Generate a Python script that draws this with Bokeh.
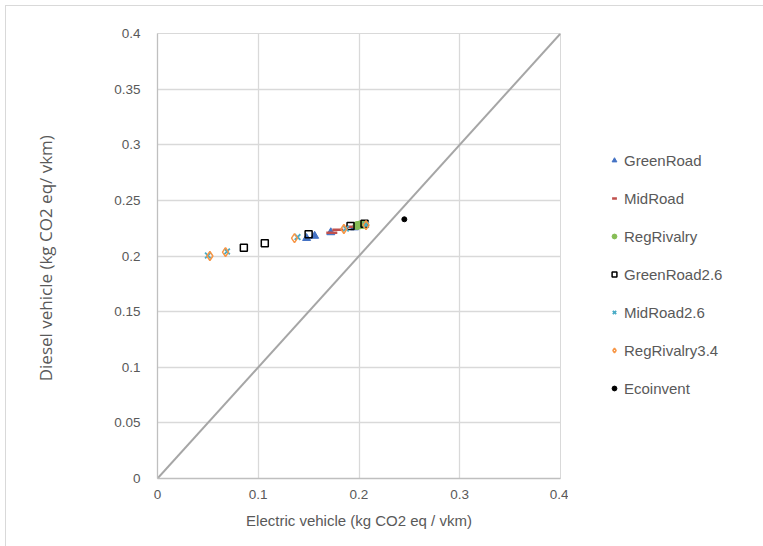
from bokeh.plotting import figure
from bokeh.layouts import row
from bokeh.models import FixedTicker, Legend, LegendItem
from bokeh.embed import file_html
from bokeh.resources import INLINE

# Emissions per vehicle-km: electric (x) against diesel (y), kg CO2 eq / vkm
green_road_x = [0.148, 0.156, 0.172, 0.1955]
green_road_y = [0.216, 0.218, 0.2212, 0.2256]

mid_road_x = [0.173, 0.179, 0.193]
mid_road_y = [0.2208, 0.2236, 0.2262]

reg_rivalry_x = [0.198, 0.201, 0.204]
reg_rivalry_y = [0.2274, 0.2280, 0.2283]

green_road26_x = [0.0857, 0.1065, 0.150, 0.1916, 0.2055]
green_road26_y = [0.2074, 0.2115, 0.2196, 0.2270, 0.2289]

mid_road26_x = [0.050, 0.069, 0.139, 0.187, 0.207]
mid_road26_y = [0.2005, 0.2040, 0.2170, 0.2246, 0.2280]

reg_rivalry34_x = [0.052, 0.0675, 0.136, 0.185, 0.207]
reg_rivalry34_y = [0.2000, 0.2035, 0.2160, 0.2243, 0.2278]

ecoinvent_x = [0.245]
ecoinvent_y = [0.233]

parity_line = [0.0, 0.4]

x_ticks = [0, 0.1, 0.2, 0.3, 0.4]
x_tick_labels = ["0", "0.1", "0.2", "0.3", "0.4"]
y_ticks = [0, 0.05, 0.1, 0.15, 0.2, 0.25, 0.3, 0.35, 0.4]
y_tick_labels = ["0", "0.05", "0.1", "0.15", "0.2", "0.25", "0.3", "0.35", "0.4"]

FONT = "'Liberation Sans', sans-serif"
TEXT = "#595959"
GRID = "#d9d9d9"

# series styling: (label, xs, ys, marker style)
series = [
    ("GreenRoad", green_road_x, green_road_y,
     dict(marker="triangle", size=8, fill_color="#4472C4", line_color="#4472C4")),
    ("MidRoad", mid_road_x, mid_road_y,
     dict(marker="dash", size=11, line_color="#C0504D", line_width=2.5)),
    ("RegRivalry", reg_rivalry_x, reg_rivalry_y,
     dict(marker="circle", size=8, fill_color="#86bd55", line_color="#86bd55")),
    ("GreenRoad2.6", green_road26_x, green_road26_y,
     dict(marker="square", size=7, fill_color=None, line_color="#000000", line_width=1.5)),
    ("MidRoad2.6", mid_road26_x, mid_road26_y,
     dict(marker="x", size=8, line_color="#4BACC6", line_width=1.8)),
    ("RegRivalry3.4", reg_rivalry34_x, reg_rivalry34_y,
     dict(marker="diamond", size=9, fill_color=None, line_color="#F79646", line_width=1.5)),
    ("Ecoinvent", ecoinvent_x, ecoinvent_y,
     dict(marker="circle", size=5, fill_color="#000000", line_color="#000000")),
]

# main scatter panel
p = figure(
    width=562, height=540,
    x_range=(0, 0.4), y_range=(0, 0.4),
    output_backend="svg", toolbar_location=None,
    min_border_left=151, min_border_right=8,
    min_border_top=27, min_border_bottom=68,
)
p.outline_line_color = GRID
p.xgrid.grid_line_color = GRID
p.ygrid.grid_line_color = GRID
p.xgrid.grid_line_width = 1.3
p.ygrid.grid_line_width = 1.3
p.xaxis.ticker = FixedTicker(ticks=x_ticks)
p.yaxis.ticker = FixedTicker(ticks=y_ticks)
p.xaxis.major_label_overrides = dict(zip(x_ticks, x_tick_labels))
p.yaxis.major_label_overrides = dict(zip(y_ticks, y_tick_labels))

for ax in (p.xaxis[0], p.yaxis[0]):
    ax.axis_line_color = "#bfbfbf"
    ax.axis_line_width = 1.3
    ax.major_tick_line_color = None
    ax.minor_tick_line_color = None
    ax.major_label_text_font = FONT
    ax.major_label_text_font_size = "13.5px"
    ax.major_label_text_color = TEXT
    ax.axis_label_text_color = TEXT
    ax.axis_label_text_font_style = "normal"

p.xaxis.axis_label = "Electric vehicle (kg CO2 eq / vkm)"
p.xaxis.axis_label_text_font = FONT
p.xaxis.axis_label_text_font_size = "15px"
p.yaxis.axis_label = "Diesel vehicle  (kg CO2 eq/ vkm)"
p.yaxis.axis_label_text_font = "'Open Sans', sans-serif"
p.yaxis.axis_label_text_font_size = "17px"
p.xaxis.major_label_standoff = 5
p.yaxis.major_label_standoff = 11
p.xaxis.axis_label_standoff = 10
p.yaxis.axis_label_standoff = 54

# y = x reference line
p.line(parity_line, parity_line, line_color="#a6a6a6", line_width=2)

for label, xs, ys, style in series:
    p.scatter(xs, ys, **style)

# legend panel to the right of the chart; its ranges keep the proxy
# glyphs out of view so that only the legend swatches show
lg = figure(
    width=195, height=540, x_range=(10, 11), y_range=(10, 11),
    x_axis_type=None, y_axis_type=None,
    output_backend="svg", toolbar_location=None,
    min_border=0,
)
lg.outline_line_color = None
items = []
for label, xs, ys, style in series:
    r = lg.scatter(xs, ys, **style)
    items.append(LegendItem(label=label, renderers=[r]))

legend = Legend(
    items=items,
    location=(40, 80),
    border_line_color=None,
    background_fill_alpha=0,
    label_text_font=FONT,
    label_text_font_size="15px",
    label_text_color=TEXT,
    glyph_width=12, glyph_height=20,
    label_height=20, spacing=18,
    label_standoff=4, padding=0, margin=0,
)
lg.add_layout(legend, "center")

layout = row(p, lg, margin=(5, 0, 0, 5))
layout.styles = {"border-left": "1px solid #d9d9d9", "border-top": "1px solid #d9d9d9"}

open("out.html", "w").write(file_html(layout, INLINE))
